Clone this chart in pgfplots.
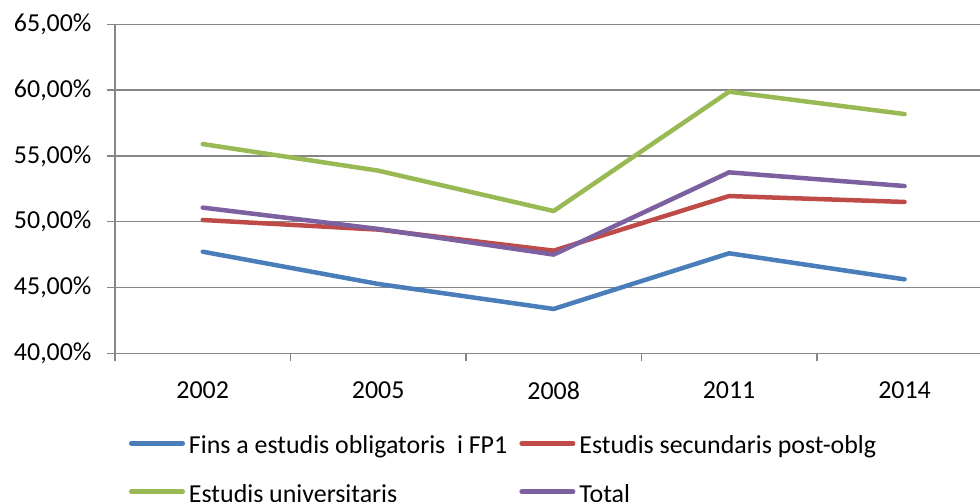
\documentclass[border=0pt]{standalone}
\usepackage{pgfplots}
\pgfplotsset{compat=1.18}
\usepackage{fontspec}
\setmainfont{Carlito}
\definecolor{cblue}{RGB}{74,126,187}
\definecolor{cred}{RGB}{190,75,72}
\definecolor{cgreen}{RGB}{152,185,84}
\definecolor{cpurple}{RGB}{125,96,160}
\definecolor{cgrid}{RGB}{134,134,134}
\begin{document}
\begin{tikzpicture}
\begin{axis}[
  at={(115bp,148.7bp)}, anchor=south west,
  scale only axis, width=865bp, height=329bp,
  xmin=-0.5, xmax=4.43, ymin=40, ymax=65,
  axis x line*=bottom, axis y line*=left,
  axis line style={cgrid, line width=1.5bp, -},
  xtick={0,1,2,3,4},
  xticklabels={2002,2005,2008,2011,2014},
  minor xtick={-0.5,0.5,1.5,2.5,3.5},
  ytick={40,45,50,55,60,65},
  yticklabels={{40,00\%},{45,00\%},{50,00\%},{55,00\%},{60,00\%},{65,00\%}},
  tick align=outside,
  major tick length=8bp, minor tick length=8bp,
  x tick style={draw=none},
  minor x tick style={draw=cgrid, line width=1.5bp},
  y tick style={draw=cgrid, line width=1.5bp},
  ymajorgrids, grid style={cgrid, line width=1.5bp},
  tick label style={font=\fontsize{26}{30}\selectfont, text=black},
  yticklabel style={xshift=-12bp},
  xticklabel style={yshift=-17bp},
  legend columns=2,
  legend cell align=left,
  legend style={draw=none, fill=none, inner sep=0pt, outer sep=0pt,
    at={(axis description cs:0.01618,-0.2544)}, anchor=north west,
    font=\fontsize{26}{30}\selectfont,
    nodes={inner sep=0pt, text height=17bp, text depth=5bp},
    row sep=26.4bp,
    /tikz/every odd column/.append style={column sep=4bp},
    /tikz/every even column/.append style={column sep=12bp}},
  legend image code/.code={\draw[#1, line cap=round] (0bp,4.7bp) -- (51.5bp,4.7bp);},
  every axis plot/.append style={line width=4.5bp, line join=round, line cap=round},
]
\addplot[cblue] coordinates {(0,47.72) (1,45.27) (2,43.37) (3,47.6) (4,45.62)};
\addlegendentry{Fins a estudis obligatoris\ \ i FP1}
\addplot[cred] coordinates {(0,50.13) (1,49.4) (2,47.8) (3,51.95) (4,51.5)};
\addlegendentry{Estudis secundaris post-oblg}
\addplot[cgreen] coordinates {(0,55.9) (1,53.88) (2,50.81) (3,59.88) (4,58.18)};
\addlegendentry{Estudis universitaris}
\addplot[cpurple] coordinates {(0,51.07) (1,49.45) (2,47.5) (3,53.75) (4,52.71)};
\addlegendentry{Total}
\end{axis}
\pgfresetboundingbox
\useasboundingbox (0bp,0bp) rectangle (980bp,502bp);
\end{tikzpicture}
\end{document}
